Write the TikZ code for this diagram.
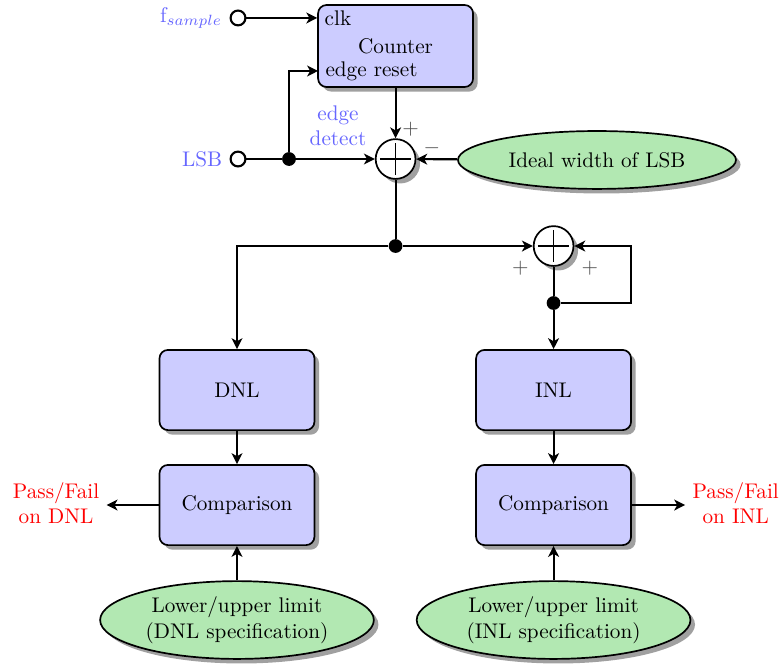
\documentclass[tikz,border=0pt]{standalone}
\usetikzlibrary{arrows.meta,shapes.geometric,shadows,calc}
\definecolor{boxblue}{RGB}{204,204,255}
\definecolor{limgreen}{RGB}{178,232,178}
\tikzset{
	shade/.style={drop shadow={opacity=0.75}},
	block/.style={draw,thick,rounded corners=4pt,fill=boxblue,shade,minimum width=2.57cm,minimum height=1.33cm},
	lim/.style={draw,thick,ellipse,fill=limgreen,shade,align=center,inner sep=1pt},
	summer/.style={draw,thick,circle,fill=white,shade,minimum size=0.66cm,inner sep=0pt,
		path picture={\draw[thick] ([xshift=-0.26cm]path picture bounding box.center) -- ([xshift=0.26cm]path picture bounding box.center)
			([yshift=-0.26cm]path picture bounding box.center) -- ([yshift=0.26cm]path picture bounding box.center);}},
	term/.style={draw,line width=1pt,circle,fill=white,inner sep=0pt,minimum size=7pt},
	dot/.style={circle,fill=black,inner sep=0pt,minimum size=6.5pt},
	wire/.style={draw,line width=1pt},
	sgn/.style={text=black!70},
	sig/.style={text=blue!60},
	res/.style={text=red,align=center},
	>={Stealth[length=1.8mm,width=1.8mm,inset=0.5mm]}
}
\begin{document}
\begin{tikzpicture}
		\useasboundingbox (0,0) rectangle (12.935,10.995);
		% counter and inputs
		\node[block,minimum height=1.36cm] (counter) at (6.56,10.232) {Counter};
		\node[term] (fs) at (3.947,10.697) {};
		\node[sig,left] (fslab) at (fs.west) {f$_{sample}$};
		\node[anchor=west] (clk) at (counter.west |- fs) {clk};
		\node[term] (lsb) at (3.947,8.358) {};
		\node[sig,left] (lsblab) at (lsb.west) {LSB};
		\node[anchor=west] (rst) at (5.274,9.818) {edge reset};
		\node[dot] (split) at (4.793,8.358) {};
		\node[sig,align=center] (det) at (5.605,8.905) {edge\\detect};
		% first sum
		\node[summer] (sumA) at (6.56,8.358) {};
		\node[sgn] at ($(sumA)+(0.25,0.5)$) {$+$};
		\node[sgn] at ($(sumA)+(0.6,0.18)$) {$-$};
		\node[lim,minimum width=4.61cm,minimum height=0.96cm] (ideal) at (9.9,8.342) {Ideal width of LSB};
		\draw[wire,->] (fs) -- (clk.west);
		\draw[wire] (lsb) -- (split);
		\draw[wire,->] (split) -- (sumA);
		\draw[wire,->] (split) |- (rst.west);
		\draw[wire,->] (counter.south) -- (sumA);
		\draw[wire,->] (ideal) -- (sumA);
		% second sum with loop
		\node[dot] (branch) at (6.56,6.915) {};
		\node[summer] (sumB) at (9.18,6.915) {};
		\node[sgn] at ($(sumB)+(-0.55,-0.37)$) {$+$};
		\node[sgn] at ($(sumB)+(0.6,-0.37)$) {$+$};
		\node[dot] (loop) at (9.18,5.97) {};
		\coordinate (loopR) at (10.464,5.97);
		\draw[wire] (sumA) -- (branch);
		\draw[wire,->] (branch) -- (sumB);
		\draw[wire] (sumB) -- (loop);
		\draw[wire,->] (loop) -- (loopR) |- (sumB);
		% DNL and INL branches
		\node[block] (dnl) at (3.93,4.527) {DNL};
		\node[block] (inl) at (9.18,4.527) {INL};
		\node[block] (cmpD) at (3.93,2.62) {Comparison};
		\node[block] (cmpI) at (9.18,2.62) {Comparison};
		\node[res] (passD) at (0.93,2.65) {Pass/Fail\\on DNL};
		\node[res] (passI) at (12.2,2.65) {Pass/Fail\\on INL};
		\node[lim,minimum width=4.54cm,minimum height=1.29cm] (limD) at (3.93,0.713) {Lower/upper limit\\(DNL specification)};
		\node[lim,minimum width=4.54cm,minimum height=1.29cm] (limI) at (9.18,0.713) {Lower/upper limit\\(INL specification)};
		\draw[wire,->] (branch) -| (dnl);
		\draw[wire,->] (loop) -- (inl);
		\draw[wire,->] (dnl) -- (cmpD);
		\draw[wire,->] (inl) -- (cmpI);
		\draw[wire,->] (cmpD.west) -- (cmpD.west -| passD.east);
		\draw[wire,->] (cmpI.east) -- (cmpI.east -| passI.west);
		\draw[wire,->] (limD) -- (cmpD);
		\draw[wire,->] (limI) -- (cmpI);
\end{tikzpicture}
\end{document}
